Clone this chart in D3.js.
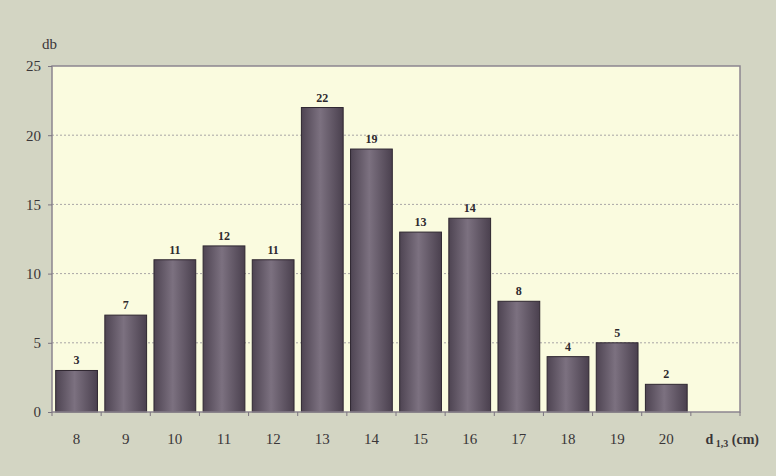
<!DOCTYPE html>
<html>
<head>
<meta charset="utf-8">
<script src="https://cdn.jsdelivr.net/npm/d3@7"></script>
<style>
  body { margin: 0; background: #d3d5c3; }
  svg { display: block; }
  text { font-family: "Liberation Serif", "Times New Roman", Times, serif; }
</style>
</head>
<body>
<div id="chart"></div>
<script>
"use strict";

// diameter classes (cm) and counts (db)
const categories = ["8", "9", "10", "11", "12", "13", "14", "15", "16", "17", "18", "19", "20"];
const counts = [3, 7, 11, 12, 11, 22, 19, 13, 14, 8, 4, 5, 2];
const yTicks = [0, 5, 10, 15, 20, 25];

const width = 776;
const height = 476;
const margin = ({top: 66, right: 36, bottom: 64, left: 52});
const serif = "'Liberation Serif', 'Times New Roman', Times, serif";

const svg = d3.select("#chart").append("svg")
    .attr("width", width)
    .attr("height", height);

const defs = svg.append("defs");
const grad = defs.append("linearGradient")
    .attr("id", "bar-grad")
    .attr("x1", "0%").attr("x2", "100%")
    .attr("y1", "0%").attr("y2", "0%");
grad.append("stop").attr("offset", "0%").attr("stop-color", "#4e4452");
grad.append("stop").attr("offset", "45%").attr("stop-color", "#7c7180");
grad.append("stop").attr("offset", "100%").attr("stop-color", "#4a404e");

// one empty band on the right for the axis title
const x = d3.scaleBand()
    .domain(categories.concat(["_"]))
    .range([margin.left, width - margin.right])
    .paddingInner(0.15)
    .paddingOuter(0.075);

const y = d3.scaleLinear()
    .domain([0, 25])
    .range([height - margin.bottom, margin.top]);

// plot area
svg.append("rect")
    .attr("x", margin.left)
    .attr("y", margin.top)
    .attr("width", width - margin.right - margin.left)
    .attr("height", y(0) - margin.top)
    .attr("fill", "#fafbdf");

// grid
svg.append("g")
    .selectAll("line")
    .data(yTicks.filter(d => d > 0 && d < 25))
    .join("line")
        .attr("x1", margin.left)
        .attr("x2", width - margin.right)
        .attr("y1", d => y(d))
        .attr("y2", d => y(d))
        .attr("stroke", "#a9a6a6")
        .attr("stroke-width", 1)
        .attr("stroke-dasharray", "2,2");

// bars
svg.append("g")
    .selectAll("rect")
    .data(counts)
    .join("rect")
        .attr("x", (d, i) => x(categories[i]))
        .attr("y", d => y(d))
        .attr("width", x.bandwidth())
        .attr("height", d => y(0) - y(d))
        .attr("fill", "url(#bar-grad)")
        .attr("stroke", "#2e2630")
        .attr("stroke-width", 1);

// value labels
svg.append("g")
    .selectAll("text")
    .data(counts)
    .join("text")
        .attr("x", (d, i) => x(categories[i]) + x.bandwidth() / 2)
        .attr("y", d => y(d) - 6)
        .attr("text-anchor", "middle")
        .attr("font-family", serif)
        .attr("font-weight", "bold")
        .attr("font-size", 12)
        .attr("fill", "#2e2a2e")
        .text(d => d);

// frame
svg.append("rect")
    .attr("x", margin.left)
    .attr("y", margin.top)
    .attr("width", width - margin.right - margin.left)
    .attr("height", y(0) - margin.top)
    .attr("fill", "none")
    .attr("stroke", "#8c8590")
    .attr("stroke-width", 1.5);

// y axis
const yAxis = g => g
    .attr("transform", `translate(${margin.left},0)`)
    .call(d3.axisLeft(y).tickValues(yTicks).tickSize(4).tickPadding(7))
    .call(g => g.select(".domain").remove())
    .call(g => g.selectAll(".tick line").attr("stroke", "#7c7580"))
    .call(g => g.selectAll(".tick text")
        .attr("fill", "#3a3638")
        .attr("font-family", serif)
        .attr("font-size", 15));

svg.append("g").call(yAxis);

// x axis ticks at band boundaries
const step = x.step();
const bounds = d3.range(categories.length + 2).map(i => margin.left + i * step);
svg.append("g")
    .selectAll("line")
    .data(bounds)
    .join("line")
        .attr("x1", d => d)
        .attr("x2", d => d)
        .attr("y1", y(0))
        .attr("y2", y(0) + 4)
        .attr("stroke", "#7c7580");

svg.append("g")
    .selectAll("text")
    .data(categories)
    .join("text")
        .attr("x", d => x(d) + x.bandwidth() / 2)
        .attr("y", y(0) + 32)
        .attr("text-anchor", "middle")
        .attr("fill", "#3a3638")
        .attr("font-family", serif)
        .attr("font-size", 15)
        .text(d => d);

// axis titles
const xTitle = svg.append("text")
    .attr("x", x("_") + 11)
    .attr("y", y(0) + 32)
    .attr("fill", "#3a3638")
    .attr("font-family", serif)
    .attr("font-weight", "bold")
    .attr("font-size", 14);
xTitle.append("tspan").text("d");
xTitle.append("tspan").attr("dy", 3).attr("font-size", 10).text(" 1,3");
xTitle.append("tspan").attr("dy", -3).text(" (cm)");

svg.append("text")
    .attr("x", 42)
    .attr("y", 49)
    .attr("fill", "#3a3638")
    .attr("font-family", serif)
    .attr("font-size", 15)
    .text("db");
</script>
</body>
</html>
